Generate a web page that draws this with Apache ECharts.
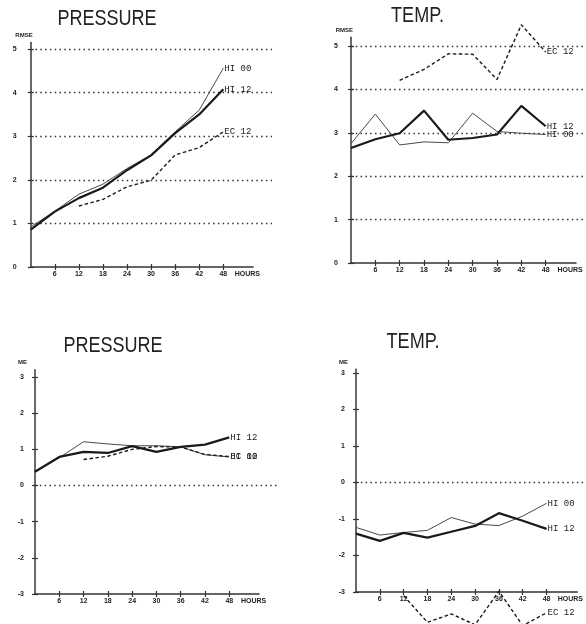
<!DOCTYPE html>
<html>
<head>
<meta charset="utf-8">
<script src="https://cdn.jsdelivr.net/npm/echarts@6/dist/echarts.min.js"></script>
<style>
  html, body { margin: 0; padding: 0; background: #fff; }
  #chart { width: 586px; height: 624px; }
</style>
</head>
<body>
<div id="chart"></div>
<script>
const hours = [0, 6, 12, 18, 24, 30, 36, 42, 48];
const hourTicks = [6, 12, 18, 24, 30, 36, 42, 48];
const hoursLabelAt = 54;

const seriesNames = ["HI 00", "HI 12", "EC 12"];

// RMSE, pressure
const pressureRmseHi00 = [0.92, 1.28, 1.67, 1.9, 2.26, 2.57, 3.1, 3.6, 4.56];
const pressureRmseHi12 = [0.86, 1.27, 1.58, 1.82, 2.22, 2.56, 3.07, 3.5, 4.08];
const pressureRmseEc12 = [null, null, 1.4, 1.55, 1.84, 1.99, 2.57, 2.74, 3.1];

// RMSE, temperature
const tempRmseHi00 = [2.75, 3.43, 2.72, 2.79, 2.77, 3.45, 3.03, 2.99, 2.96];
const tempRmseHi12 = [2.65, 2.85, 2.99, 3.51, 2.84, 2.88, 2.96, 3.62, 3.15];
const tempRmseEc12 = [null, null, 4.21, 4.46, 4.82, 4.81, 4.23, 5.49, 4.86];

// ME, pressure
const pressureMeHi00 = [0.39, 0.77, 1.21, 1.15, 1.1, 1.1, 1.07, 0.85, 0.79];
const pressureMeHi12 = [0.38, 0.79, 0.93, 0.9, 1.09, 0.93, 1.07, 1.13, 1.33];
const pressureMeEc12 = [null, null, 0.72, 0.81, 1.0, 1.08, 1.06, 0.86, 0.8];

// ME, temperature
const tempMeHi00 = [-1.23, -1.44, -1.37, -1.31, -0.96, -1.14, -1.18, -0.92, -0.57];
const tempMeHi12 = [-1.4, -1.6, -1.38, -1.51, -1.35, -1.19, -0.84, -1.05, -1.27];
const tempMeEc12 = [null, null, -3.1, -3.83, -3.6, -3.9, -2.98, -3.92, -3.57];

const rmseTicks = [0, 1, 2, 3, 4, 5];
const meTicks = [-3, -2, -1, 0, 1, 2, 3];

const INK = "#222";
const LABEL_FONT = "Liberation Sans";
const MONO_FONT = "Liberation Mono";

const lineStyles = [
  { color: "#4a4a4a", width: 1 },
  { color: "#1a1a1a", width: 2.2 },
  { color: "#1a1a1a", width: 1.4, type: [3.5, 2.5] }
];

const panels = [
  {
    title: "PRESSURE", titleX: 107, titleY: 18.5, yName: "RMSE",
    values: [pressureRmseHi00, pressureRmseHi12, pressureRmseEc12], ticks: rmseTicks,
    left: 30.7, top: 42.5, width: 222.3, height: 224.5, xMax: 55.4, yMin: 0, yMax: 5.15,
    gridWidth: 241.3, gridTop: 49, gridHeight: 218, gridMin: 0, gridMax: 5, gridInterval: 1, gridMaxLine: true,
    labelMargin: 14
  },
  {
    title: "TEMP.", titleX: 417.5, titleY: 15.5, yName: "RMSE",
    values: [tempRmseHi00, tempRmseHi12, tempRmseEc12], ticks: rmseTicks,
    left: 351, top: 37.3, width: 225, height: 225.7, xMax: 55.47, yMin: 0, yMax: 5.2,
    gridWidth: 232, gridTop: 46, gridHeight: 217, gridMin: 0, gridMax: 5, gridInterval: 1, gridMaxLine: true,
    labelMargin: 13
  },
  {
    title: "PRESSURE", titleX: 113, titleY: 345.5, yName: "ME",
    values: [pressureMeHi00, pressureMeHi12, pressureMeEc12], ticks: meTicks,
    left: 35, top: 369.8, width: 224, height: 224.2, xMax: 55.34, yMin: -3, yMax: 3.2,
    gridWidth: 242, gridTop: 377, gridHeight: 217, gridMin: -3, gridMax: 3, gridInterval: 3, gridMaxLine: false,
    labelMargin: 11
  },
  {
    title: "TEMP.", titleX: 413, titleY: 341.5, yName: "ME",
    values: [tempMeHi00, tempMeHi12, tempMeEc12], ticks: meTicks,
    left: 356, top: 369.35, width: 227, height: 222.65, xMax: 55.77, yMin: -3, yMax: 3.1,
    gridWidth: 230, gridTop: 373, gridHeight: 219, gridMin: -3, gridMax: 3, gridInterval: 3, gridMaxLine: false,
    labelMargin: 11
  }
];

function toPoints(values) {
  return hours
    .map((h, i) => [h, values[i]])
    .filter((p) => p[1] !== null);
}

function smallLabel(extra) {
  return Object.assign({
    color: INK,
    fontSize: 7,
    fontWeight: "bold",
    fontFamily: LABEL_FONT
  }, extra);
}

function buildOption() {
  const grid = [];
  const xAxis = [];
  const yAxis = [];
  const series = [];
  const graphic = [];

  panels.forEach((p) => {
    const plotGrid = grid.length;
    grid.push({ left: p.left, top: p.top, width: p.width, height: p.height });
    const lineGrid = grid.length;
    grid.push({ left: p.left, top: p.gridTop, width: p.gridWidth, height: p.gridHeight });

    const axisLineStyle = { color: "#333", width: 1.5 };
    const tickStyle = { color: "#333", width: 1.2 };

    // x axis: outer ticks and labels
    const xMain = xAxis.length;
    xAxis.push({
      type: "value", gridIndex: plotGrid, position: "bottom", min: 0, max: p.xMax, interval: 6,
      axisLine: { show: true, onZero: false, lineStyle: axisLineStyle },
      axisTick: { show: true, inside: false, length: 3, customValues: hourTicks, lineStyle: tickStyle },
      axisLabel: Object.assign(smallLabel({ margin: 4 }), {
        customValues: hourTicks.concat([hoursLabelAt]),
        formatter: (v) => (v > 48 ? "HOURS" : String(v))
      }),
      splitLine: { show: false }
    });
    // x axis: inner half of the cross ticks
    xAxis.push({
      type: "value", gridIndex: plotGrid, position: "bottom", min: 0, max: p.xMax, interval: 6,
      axisLine: { show: false, onZero: false },
      axisTick: { show: true, inside: true, length: 3, customValues: hourTicks, lineStyle: tickStyle },
      axisLabel: { show: false },
      splitLine: { show: false }
    });
    xAxis.push({ type: "value", gridIndex: lineGrid, min: 0, max: 10, show: false });

    const yMain = yAxis.length;
    yAxis.push({
      type: "value", gridIndex: plotGrid, position: "left", min: p.yMin, max: p.yMax, interval: 1,
      name: p.yName, nameLocation: "end", nameGap: 4,
      nameTextStyle: smallLabel({ fontSize: 6, align: "right", padding: [0, p.yName === "ME" ? 8 : -2, 0, 0] }),
      axisLine: { show: true, onZero: false, lineStyle: { color: "#444", width: 1.6 } },
      axisTick: { show: true, inside: false, length: 3, customValues: p.ticks, lineStyle: tickStyle },
      axisLabel: Object.assign(smallLabel({ margin: p.labelMargin }), { customValues: p.ticks }),
      splitLine: { show: false }
    });
    yAxis.push({
      type: "value", gridIndex: plotGrid, position: "left", min: p.yMin, max: p.yMax, interval: 1,
      axisLine: { show: false, onZero: false },
      axisTick: { show: true, inside: true, length: 3, customValues: p.ticks, lineStyle: tickStyle },
      axisLabel: { show: false },
      splitLine: { show: false }
    });
    const yLines = yAxis.length;
    yAxis.push({
      type: "value", gridIndex: lineGrid, min: p.gridMin, max: p.gridMax, interval: p.gridInterval,
      axisLine: { show: false }, axisTick: { show: false }, axisLabel: { show: false },
      splitLine: {
        show: true, showMinLine: false, showMaxLine: p.gridMaxLine,
        lineStyle: { color: "#333", width: 1.3, type: [1.5, 3.3] }
      }
    });

    // empty series so the dotted reference lines get drawn
    series.push({ type: "line", xAxisIndex: xMain + 2, yAxisIndex: yLines, data: [], silent: true });

    p.values.forEach((vals, i) => {
      series.push({
        type: "line",
        name: seriesNames[i],
        xAxisIndex: xMain,
        yAxisIndex: yMain,
        data: toPoints(vals),
        symbol: "none",
        clip: false,
        lineStyle: lineStyles[i],
        z: i === 1 ? 3 : 2,
        endLabel: {
          show: true,
          formatter: seriesNames[i],
          distance: 1,
          color: INK,
          fontSize: 9,
          fontFamily: MONO_FONT
        }
      });
    });

    graphic.push({
      type: "text",
      x: p.titleX,
      y: p.titleY,
      scaleX: 0.82,
      style: {
        text: p.title,
        font: '22px "Liberation Sans", Arial, sans-serif',
        fill: INK,
        align: "center",
        verticalAlign: "middle"
      }
    });
  });

  return {
    backgroundColor: "#fff",
    animation: false,
    grid,
    xAxis,
    yAxis,
    series,
    graphic
  };
}

const chart = echarts.init(document.getElementById("chart"), null, { renderer: "canvas" });
chart.setOption(buildOption());
</script>
</body>
</html>
